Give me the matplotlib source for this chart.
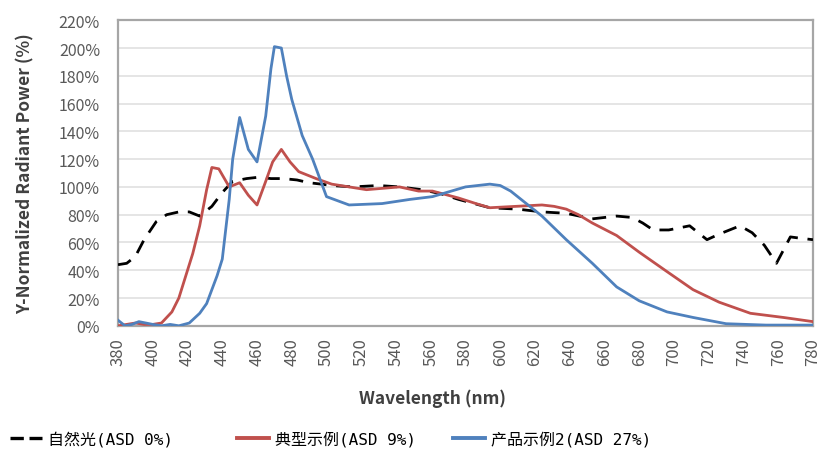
"""Normalized spectral power of natural light vs. two lamp examples."""

import matplotlib
matplotlib.use("Agg")
import matplotlib.pyplot as plt
from matplotlib.lines import Line2D
from matplotlib.ticker import FuncFormatter, MultipleLocator

plt.rcParams["font.family"] = ["Noto Sans CJK SC", "DejaVu Sans"]

# natural light (dashed black)
nat_wl = [380, 385, 390, 395, 402, 408, 415, 421, 427, 434, 440, 446, 454, 461,
          468, 475, 483, 490, 497, 503, 515, 530, 542, 555, 566, 576, 585, 594,
          610, 624, 638, 653, 667, 676, 682, 688, 697, 709, 719, 726, 738, 745,
          752, 759, 767, 773, 780]
nat_val = [44, 45, 50, 62, 75, 80, 82, 82, 79, 86, 96, 104, 106, 107,
           106, 106, 105, 103, 102, 101, 100, 101, 100, 98, 95, 91, 88, 85,
           84, 82, 81, 77, 79, 78, 74, 69, 69, 72, 62, 66, 72, 67,
           58, 45, 64, 63, 62]

# typical example (red)
typ_wl = [380, 385, 390, 395, 400, 405, 411, 415, 419, 423, 427, 431, 434, 438,
          444, 450, 455, 460, 465, 469, 474, 479, 484, 494, 503, 523, 542, 553,
          561, 576, 586, 594, 609, 624, 631, 638, 645, 653, 667, 680, 696, 711,
          726, 744, 763, 780]
typ_val = [0, 1, 2, 1, 1, 2, 10, 20, 36, 52, 72, 98, 114, 113,
           100, 103, 94, 87, 104, 118, 127, 118, 111, 106, 102, 98, 100, 97,
           97, 92, 88, 85, 86, 87, 86, 84, 80, 74, 65, 53, 39, 26,
           17, 9, 6, 3]

# product example 2 (blue)
prd_wl = [380, 384, 388, 392, 396, 400, 405, 410, 415, 421, 427, 431, 434, 437,
          440, 444, 446, 450, 455, 460, 465, 468, 470, 474, 477, 480, 486, 492,
          500, 513, 532, 548, 561, 580, 594, 600, 606, 612, 624, 638, 653, 667,
          680, 696, 711, 730, 753, 780]
prd_val = [4, 0, 1, 3, 2, 1, 0, 1, 0, 2, 9, 16, 26, 36,
           48, 91, 120, 150, 127, 118, 151, 185, 201, 200, 180, 163, 137, 120,
           93, 87, 88, 91, 93, 100, 102, 101, 97, 91, 79, 62, 45, 28,
           18, 10, 6, 1.5, 0.5, 0.5]

labels = ["自然光(ASD 0%)", "典型示例(ASD 9%)", "产品示例2(ASD 27%)"]
colors = ["black", "#C0504D", "#4F81BD"]
DASH = (0, (5, 3.5))

fig = plt.figure(figsize=(8.22, 4.52), dpi=100, facecolor="white")
ax = fig.add_axes([0.1436, 0.277, 0.8454, 0.676])

ax.plot(nat_wl, nat_val, color=colors[0], linewidth=2.0, linestyle=DASH, zorder=3)
ax.plot(typ_wl, typ_val, color=colors[1], linewidth=2.0, zorder=4)
ax.plot(prd_wl, prd_val, color=colors[2], linewidth=2.0, zorder=5)

ax.set_xlim(380, 780)
ax.set_ylim(0, 220)
ax.xaxis.set_major_locator(MultipleLocator(20))
ax.yaxis.set_major_locator(MultipleLocator(20))
ax.yaxis.set_major_formatter(FuncFormatter(lambda v, p: f"{v:.0f}%"))
ax.grid(True, axis="y", color="#E0E0E0", linewidth=1.2)
ax.set_axisbelow(True)
for spine in ax.spines.values():
    spine.set_color("#A6A6A6")
    spine.set_linewidth(1.6)

ax.tick_params(axis="both", length=0, colors="#595959")
ax.tick_params(axis="y", pad=13, labelsize=11.5)
ax.tick_params(axis="x", pad=8, labelsize=12)
for lbl in ax.get_xticklabels():
    lbl.set_rotation(90)

ax.set_ylabel("Y-Normalized Radiant Power (%)", fontsize=12.5, fontweight="bold",
              color="#404040")
ax.yaxis.set_label_coords(-0.12, 0.5)
ax.set_xlabel("Wavelength (nm)", fontsize=12.5, fontweight="bold", color="#404040")
ax.xaxis.set_label_coords(0.452, -0.205)

# legend entries sit in one row under the chart, each placed at its own spot
leg_x = [10, 237, 453]
leg_styles = [(0, (4, 1.7)), "-", "-"]
for x0, lab, col, ls in zip(leg_x, labels, colors, leg_styles):
    handle = Line2D([], [], color=col, linewidth=2.8 if ls == "-" else 2.4, linestyle=ls)
    fig.legend([handle], [lab], loc="center left",
               bbox_to_anchor=(x0 / 822, 1 - 440 / 452),
               frameon=False, borderpad=0, borderaxespad=0,
               handlelength=2.0, handletextpad=0.4,
               prop={"family": ["DejaVu Sans Mono", "Noto Sans CJK SC"], "size": 11.5})

fig.savefig("out.png", dpi=100, facecolor="white")
